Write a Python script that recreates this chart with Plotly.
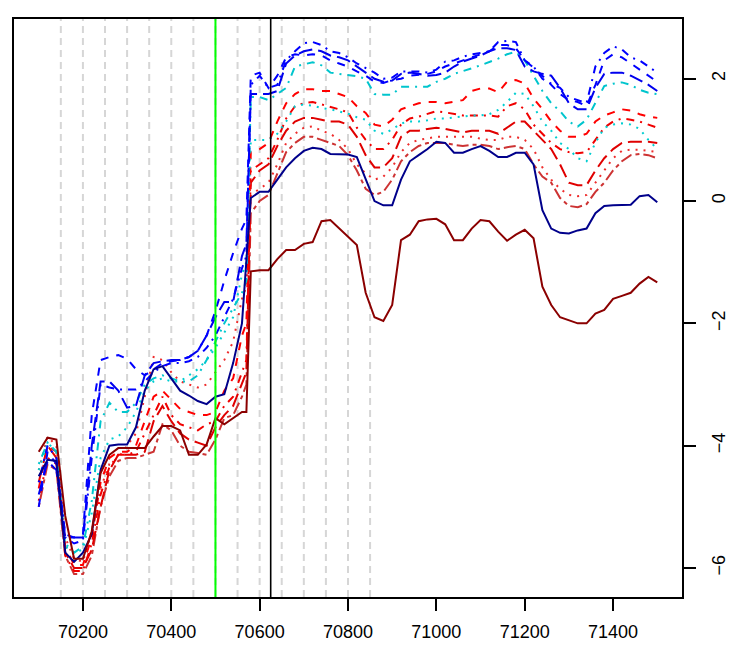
import plotly.graph_objects as go

# ---- data -------------------------------------------------------------
x_pos = list(range(70100, 70561, 20)) + [70570] + list(range(70580, 71501, 20))

s_darkred = [-4.10, -3.87, -3.90, -5.15, -5.85, -5.85, -5.40, -4.45, -4.15, -4.04,
             -4.04, -4.04, -4.04, -3.85, -3.68, -3.68, -3.75, -4.15, -4.15, -3.98,
             -3.55, -3.65, -3.55, -3.45, -3.45, -1.15, -1.13, -1.13, -0.95, -0.80, -0.80,
             -0.70, -0.67, -0.33, -0.31, -0.45, -0.58, -0.72, -1.50, -1.90, -1.96,
             -1.70, -0.64, -0.55, -0.33, -0.30, -0.29, -0.38, -0.64, -0.64, -0.45,
             -0.31, -0.33, -0.50, -0.65, -0.55, -0.47, -0.61, -1.40, -1.70, -1.90,
             -1.95, -2.00, -2.00, -1.84, -1.78, -1.60, -1.55, -1.50, -1.35, -1.24,
             -1.33]

s_navy = [-4.50, -4.23, -4.25, -5.75, -5.90, -5.75, -5.45, -4.40, -4.00, -3.98,
          -3.98, -3.70, -3.10, -2.75, -2.70, -2.90, -3.10, -3.18, -3.27, -3.32,
          -3.20, -3.16, -2.65, -2.00, -1.00, 0.05, 0.15, 0.15, 0.35, 0.55, 0.70,
          0.82, 0.87, 0.85, 0.77, 0.76, 0.76, 0.72, 0.35, 0.00, -0.07,
          -0.07, 0.35, 0.65, 0.75, 0.85, 0.97, 0.95, 0.79, 0.79, 0.85,
          0.90, 0.82, 0.72, 0.72, 0.79, 0.79, 0.60, -0.15, -0.45, -0.52,
          -0.53, -0.48, -0.45, -0.20, -0.08, -0.07, -0.07, -0.06, 0.08, 0.10,
          -0.02]

s_blue_a = [-4.60, -4.00, -4.20, -5.50, -5.60, -5.55, -4.20, -3.00, -3.05, -3.08,
            -3.08, -3.08, -2.95, -2.80, -2.70, -2.65, -2.65, -2.62, -2.55, -2.40,
            -2.20, -1.90, -1.60, -1.10, -0.90, 1.90, 2.05, 1.85, 1.90, 2.30, 2.45,
            2.58, 2.60, 2.55, 2.45, 2.42, 2.35, 2.25, 2.18, 2.10, 2.00,
            2.02, 2.12, 2.12, 2.12, 2.10, 2.15, 2.28, 2.30, 2.36, 2.40,
            2.42, 2.45, 2.60, 2.62, 2.60, 2.30, 2.20, 2.00, 1.92, 1.85,
            1.70, 1.65, 1.60, 2.20, 2.42, 2.53, 2.48, 2.35, 2.30, 2.20,
            2.10]

s_blue_b = [-4.80, -4.25, -4.40, -5.50, -5.50, -5.50, -4.00, -2.95, -2.95, -3.10,
            -3.38, -3.35, -2.85, -2.65, -2.62, -2.60, -2.60, -2.55, -2.45, -2.20,
            -1.90, -1.65, -1.65, -0.90, -0.70, 1.75, 1.75, 1.75, 1.80, 2.25, 2.38,
            2.45, 2.48, 2.45, 2.38, 2.35, 2.30, 2.20, 2.10, 2.00, 1.95,
            1.97, 2.08, 2.10, 2.08, 2.05, 2.06, 2.10, 2.20, 2.28, 2.33,
            2.38, 2.45, 2.50, 2.50, 2.47, 2.20, 2.12, 2.08, 2.05, 1.85,
            1.60, 1.50, 1.50, 1.85, 2.08, 2.10, 2.10, 2.05, 1.97, 1.90,
            1.80]

s_blue_c = [-5.00, -4.10, -4.30, -5.45, -5.50, -5.45, -3.50, -2.60, -2.55, -2.52,
            -2.58, -2.75, -2.85, -2.75, -2.65, -2.62, -2.60, -2.55, -2.45, -2.20,
            -1.80, -1.30, -0.85, -0.45, -0.30, 2.05, 2.10, 1.85, 2.05, 2.35, 2.40,
            2.38, 2.40, 2.38, 2.30, 2.25, 2.20, 2.12, 2.05, 1.95, 1.93,
            1.98, 2.00, 2.05, 2.06, 2.08, 2.12, 2.20, 2.25, 2.30, 2.35,
            2.40, 2.45, 2.55, 2.55, 2.50, 2.30, 2.18, 2.05, 1.90, 1.75,
            1.65, 1.62, 1.55, 1.90, 2.30, 2.40, 2.35, 2.25, 2.15, 2.05,
            1.95]

s_cyan_d = [-4.30, -3.95, -4.10, -5.65, -5.75, -5.65, -4.90, -3.60, -3.30, -3.45,
            -3.45, -3.30, -3.00, -2.90, -2.85, -2.90, -2.95, -2.95, -2.85, -2.60,
            -2.30, -2.00, -1.75, -1.50, -1.30, 1.70, 1.70, 1.65, 1.75, 1.85, 2.20,
            2.24, 2.27, 2.22, 2.10, 2.08, 2.06, 2.04, 2.00, 1.75, 1.74,
            1.74, 1.87, 1.87, 1.87, 1.87, 1.95, 2.00, 2.08, 2.12, 2.17,
            2.22, 2.27, 2.33, 2.40, 2.44, 2.30, 2.05, 1.80, 1.60, 1.47,
            1.30, 1.22, 1.33, 1.60, 1.88, 1.92, 1.94, 1.90, 1.82, 1.77,
            1.75]

s_cyan_g = [-4.40, -3.95, -4.10, -5.60, -5.75, -5.70, -5.10, -4.20, -3.90, -3.85,
            -3.70, -3.45, -3.10, -2.95, -2.90, -2.95, -2.95, -2.85, -2.75, -2.60,
            -2.40, -2.15, -1.90, -1.20, -1.00, 1.00, 1.00, 1.00, 1.10, 1.30, 1.55,
            1.58, 1.56, 1.52, 1.50, 1.46, 1.43, 1.37, 1.33, 1.15, 1.10,
            1.17, 1.27, 1.30, 1.30, 1.32, 1.35, 1.35, 1.37, 1.39, 1.40,
            1.40, 1.42, 1.49, 1.62, 1.77, 1.75, 1.55, 1.30, 1.15, 0.95,
            0.85, 0.70, 0.65, 0.95, 1.20, 1.25, 1.27, 1.25, 1.18, 1.00,
            0.85]

s_red_e = [-4.70, -4.00, -4.10, -5.65, -5.95, -5.95, -5.50, -4.60, -4.20, -4.10,
           -4.10, -4.00, -3.60, -3.20, -3.10, -3.25, -3.40, -3.45, -3.50, -3.50,
           -3.45, -3.10, -2.90, -2.20, -2.00, 0.80, 0.85, 0.95, 1.30, 1.60, 1.75,
           1.83, 1.83, 1.80, 1.80, 1.75, 1.70, 1.55, 1.44, 1.25, 1.22,
           1.33, 1.50, 1.55, 1.60, 1.62, 1.62, 1.60, 1.62, 1.65, 1.80,
           1.84, 1.84, 1.78, 1.95, 1.98, 1.92, 1.68, 1.50, 1.30, 1.15,
           1.05, 1.05, 1.10, 1.30, 1.40, 1.45, 1.50, 1.48, 1.42, 1.38,
           1.36]

s_red_f = [-4.90, -4.20, -4.30, -5.80, -6.05, -6.05, -5.60, -4.80, -4.35, -4.15,
           -4.15, -4.10, -3.80, -3.50, -3.20, -3.50, -3.65, -3.70, -3.75, -3.65,
           -3.60, -3.35, -3.20, -2.80, -2.60, 0.50, 0.60, 0.70, 1.00, 1.35, 1.55,
           1.60, 1.62, 1.58, 1.55, 1.50, 1.45, 1.20, 1.00, 0.85, 0.85,
           1.00, 1.25, 1.35, 1.38, 1.42, 1.47, 1.45, 1.43, 1.40, 1.40,
           1.40, 1.40, 1.38, 1.55, 1.60, 1.50, 1.25, 1.10, 0.95, 0.85,
           0.80, 0.78, 0.80, 1.00, 1.20, 1.30, 1.35, 1.33, 1.30, 1.25,
           1.20]

s_red_h = [-4.60, -4.00, -4.20, -5.75, -6.00, -6.00, -5.70, -5.00, -4.40, -4.15,
           -4.15, -4.15, -4.10, -3.60, -3.35, -3.60, -3.80, -3.90, -3.95, -4.00,
           -3.70, -3.50, -3.35, -3.00, -2.80, 0.30, 0.50, 0.60, 0.90, 1.15, 1.30,
           1.36, 1.36, 1.33, 1.30, 1.30, 1.25, 1.05, 0.75, 0.55, 0.55,
           0.70, 1.05, 1.15, 1.15, 1.18, 1.20, 1.18, 1.15, 1.12, 1.15,
           1.15, 1.15, 1.10, 1.20, 1.30, 1.30, 1.15, 1.00, 0.85, 0.60,
           0.30, 0.26, 0.26, 0.50, 0.70, 0.85, 0.95, 0.97, 0.97, 0.97,
           0.95]

s_red_i = [-4.40, -3.85, -4.00, -5.50, -5.85, -5.90, -5.40, -4.70, -4.30, -4.20,
           -4.00, -3.80, -3.20, -2.55, -2.60, -2.80, -2.95, -3.00, -3.05, -3.00,
           -2.80, -2.60, -2.30, -1.60, -1.40, 0.10, 0.20, 0.30, 0.60, 0.95, 1.10,
           1.20, 1.22, 1.15, 1.10, 1.00, 0.85, 0.60, 0.45, 0.35, 0.40,
           0.55, 0.80, 0.95, 1.00, 1.02, 1.05, 1.05, 1.05, 1.05, 1.05,
           1.02, 1.00, 1.00, 1.05, 1.05, 1.00, 0.85, 0.55, 0.35, 0.20,
           0.10, 0.08, 0.10, 0.30, 0.50, 0.70, 0.82, 0.84, 0.84, 0.82,
           0.80]

s_ired_j = [-5.00, -4.30, -4.40, -5.80, -6.10, -6.10, -5.80, -5.00, -4.50, -4.25,
            -4.20, -4.20, -4.15, -4.10, -3.65, -3.75, -4.00, -4.10, -4.12, -4.15,
            -3.90, -3.55, -3.50, -3.20, -3.00, -0.20, 0.00, 0.10, 0.45, 0.80, 0.95,
            1.05, 1.05, 1.00, 0.95, 0.90, 0.75, 0.50, 0.20, 0.10, 0.15,
            0.35, 0.65, 0.80, 0.90, 0.95, 0.95, 0.95, 0.92, 0.90, 0.92,
            0.92, 0.90, 0.85, 0.88, 0.90, 0.85, 0.60, 0.40, 0.30, 0.05,
            -0.08, -0.10, -0.05, 0.15, 0.30, 0.50, 0.65, 0.75, 0.77, 0.75,
            0.70]

grid_x = [70150, 70200, 70250, 70300, 70350, 70400, 70450, 70500,
          70550, 70600, 70650, 70700, 70750, 70800, 70850]
green_x = 70500
black_x = 70625

x_ticks = [70200, 70400, 70600, 70800, 71000, 71200, 71400]
x_tick_text = ["70200", "70400", "70600", "70800", "71000", "71200", "71400"]
y_ticks = [-6, -4, -2, 0, 2]
y_tick_text = ["\u22126", "\u22124", "\u22122", "0", "2"]

# ---- styles -------------------------------------------------------------
series = [
    (s_ired_j, "#CD3333", "4px,4px,12px,4px"),
    (s_red_i, "#EE2C2C", "2px,6px"),
    (s_red_h, "#E00000", "14px,6px"),
    (s_red_f, "#F00000", "2px,6px,8px,6px"),
    (s_red_e, "#FF0000", "8px,8px"),
    (s_cyan_g, "#00CED1", "2px,6px"),
    (s_cyan_d, "#00C5CD", "2px,6px,8px,6px"),
    (s_blue_b, "#0000EE", "14px,6px"),
    (s_blue_c, "#0000FF", "8px,8px"),
    (s_blue_a, "#0000FF", "2px,6px,8px,6px"),
    (s_navy, "#00008B", "solid"),
    (s_darkred, "#8B0000", "solid"),
]

fig = go.Figure()
for ys, col, dash in series:
    fig.add_trace(go.Scatter(x=x_pos, y=ys, mode="lines",
                             line=dict(color=col, width=2, dash=dash),
                             showlegend=False, hoverinfo="skip"))

for gx in grid_x:
    fig.add_vline(x=gx, line=dict(color="#D6D6D6", width=2, dash="7px,5px"),
                  layer="below")
fig.add_vline(x=green_x, line=dict(color="#00FF00", width=2), layer="above")
fig.add_vline(x=black_x, line=dict(color="#000000", width=1.6), layer="above")

font = dict(family="Liberation Sans, Arial, sans-serif", size=18, color="black")
fig.update_layout(
    width=747, height=646,
    margin=dict(l=4, r=73, t=11, b=57),
    paper_bgcolor="white", plot_bgcolor="white",
    font=font,
    xaxis=dict(range=[70044, 71556], tickmode="array", tickvals=x_ticks,
               ticktext=x_tick_text, ticks="outside", ticklen=12, tickwidth=1.5,
               tickcolor="black", showline=True, linecolor="black", linewidth=1.6,
               mirror=True, showgrid=False, zeroline=False, tickfont=font,
               ticklabelstandoff=6),
    yaxis=dict(range=[-6.475, 2.977], side="right", tickmode="array",
               tickvals=y_ticks, ticktext=y_tick_text, ticks="outside",
               ticklen=12, tickwidth=1.5, tickcolor="black", tickangle=-90,
               showline=True, linecolor="black", linewidth=1.6, mirror=True,
               showgrid=False, zeroline=False, tickfont=font,
               ticklabelstandoff=8),
)

fig.write_html("out.html")
